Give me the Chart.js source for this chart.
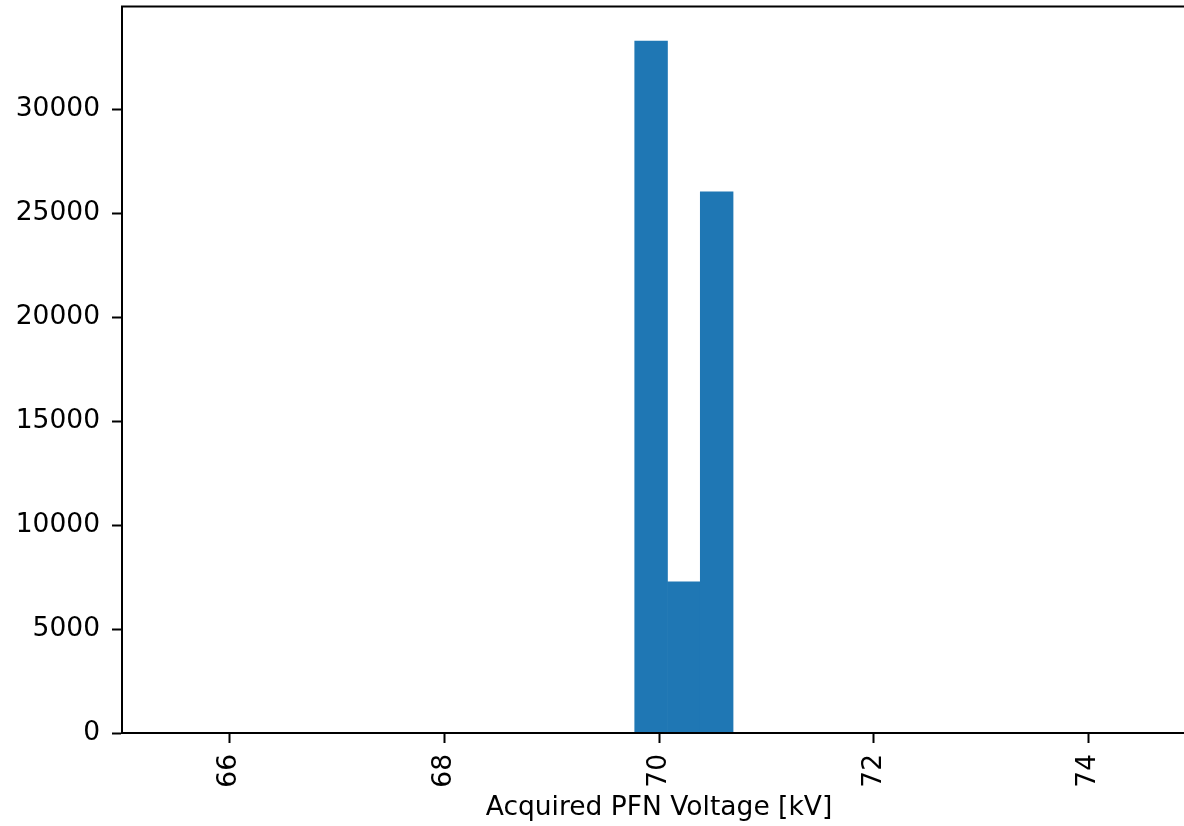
<!DOCTYPE html>
<html>
<head>
<meta charset="utf-8">
<script src="https://cdn.jsdelivr.net/npm/chart.js@4.4.0/dist/chart.umd.min.js"></script>
<style>
  html, body { margin: 0; padding: 0; overflow: hidden; background: #fff; }
  #wrap { position: absolute; left: 0; top: 0; width: 1200px; height: 826px; }
</style>
</head>
<body>
<div id="wrap"><canvas id="histPFN" width="1200" height="826"></canvas></div>
<script>
// histogram bins (kV) and counts
const binEdges = [69.774, 70.079, 70.384, 70.690];
const counts = [33270, 7270, 26020];
const xTicks = [66, 68, 70, 72, 74];
const yTicks = [0, 5000, 10000, 15000, 20000, 25000, 30000];
const xRange = [65, 75];

const points = counts.map((c, i) => ({
    x: (binEdges[i] + binEdges[i + 1]) / 2,
    y: c,
}));

const fontTick = { family: "DejaVu Sans", size: 26.5 };

// box around the plot, like matplotlib spines
const spines = {
    id: "spines",
    afterDraw(chart) {
        const { ctx, chartArea: a } = chart;
        ctx.save();
        ctx.strokeStyle = "#000";
        ctx.lineWidth = 2;
        ctx.strokeRect(a.left, a.top, a.right - a.left, a.bottom - a.top);
        ctx.restore();
    },
};

new Chart(document.getElementById("histPFN"), {
    type: "bar",
    data: {
        datasets: [
            {
                data: points,
                backgroundColor: "#1f77b4",
                borderWidth: 0,
                barPercentage: 1,
                categoryPercentage: 1,
            },
        ],
    },
    options: {
        responsive: false,
        animation: false,
        events: [],
        layout: { padding: { top: 6.5, right: 4, left: 0, bottom: 0 } },
        plugins: {
            legend: { display: false },
            tooltip: { enabled: false },
        },
        scales: {
            x: {
                type: "linear",
                min: xRange[0],
                max: xRange[1],
                offset: false,
                afterBuildTicks: (s) => {
                    s.ticks = xTicks.map((v) => ({ value: v }));
                },
                afterFit: (s) => {
                    s.height = 93;
                    s.paddingLeft = 0;
                    s.paddingRight = 0;
                },
                ticks: {
                    color: "#000",
                    font: fontTick,
                    padding: 11,
                    minRotation: 90,
                    maxRotation: 90,
                    autoSkip: false,
                },
                grid: {
                    offset: false,
                    drawOnChartArea: false,
                    drawTicks: true,
                    tickLength: 10,
                    tickWidth: 2,
                    tickColor: "#000",
                },
                border: { display: true, color: "#000", width: 2 },
                title: {
                    display: true,
                    text: "Acquired PFN Voltage [kV]",
                    color: "#000",
                    font: fontTick,
                    padding: { top: 0, bottom: 2 },
                },
            },
            y: {
                min: 0,
                max: Math.max(...counts) * 1.05,
                afterBuildTicks: (s) => {
                    s.ticks = yTicks.map((v) => ({ value: v }));
                },
                afterFit: (s) => {
                    s.width = 122;
                    s.paddingTop = 0;
                    s.paddingBottom = 0;
                },
                ticks: {
                    color: "#000",
                    font: fontTick,
                    padding: 12,
                    callback: (v) => String(v),
                },
                grid: {
                    drawOnChartArea: false,
                    drawTicks: true,
                    tickLength: 10,
                    tickWidth: 2,
                    tickColor: "#000",
                },
                border: { display: true, color: "#000", width: 2 },
            },
        },
    },
    plugins: [spines],
});
</script>
</body>
</html>
